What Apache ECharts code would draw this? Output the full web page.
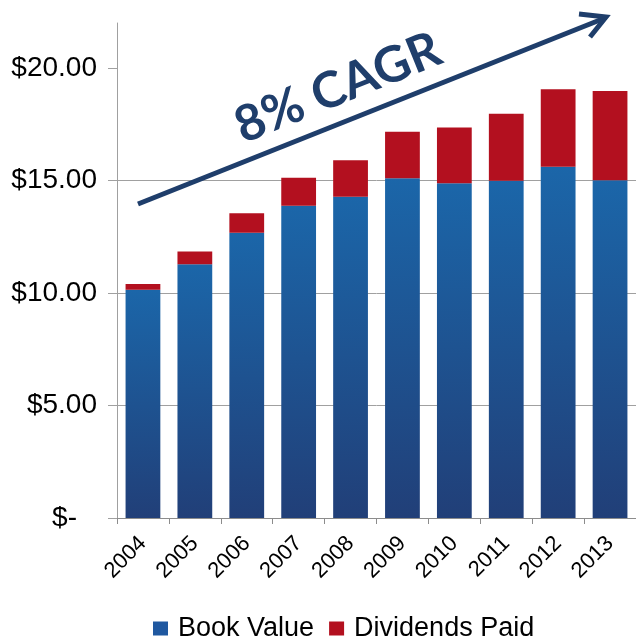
<!DOCTYPE html>
<html>
<head>
<meta charset="utf-8">
<script src="https://cdn.jsdelivr.net/npm/echarts@6/dist/echarts.min.js"></script>
<style>html,body{margin:0;padding:0;background:#fff}#c{width:636px;height:637px}</style>
</head>
<body>
<div id="c"></div>
<script>
const years = ['2004','2005','2006','2007','2008','2009','2010','2011','2012','2013'];
const bookValue = [10.14, 11.28, 12.68, 13.88, 14.28, 15.10, 14.88, 14.99, 15.61, 15.01];
const dividendsPaid = [0.26, 0.56, 0.86, 1.24, 1.62, 2.07, 2.48, 2.98, 3.45, 3.97];
const yTicks = [0, 5, 10, 15, 20];
const seriesNames = ['Book Value', 'Dividends Paid'];
const annotation = '8% CAGR';

const chart = echarts.init(document.getElementById('c'));
const blueGrad = new echarts.graphic.LinearGradient(0, 0, 0, 1, [
  {offset: 0, color: '#1b66a9'}, {offset: 1, color: '#213f78'}
]);
const navy = '#1f3e6b';
chart.setOption({
  animation: false,
  textStyle: {fontFamily: 'Liberation Sans'},
  grid: {left: 117, right: 0, top: 23, bottom: 119},
  legend: {
    left: 148, top: 610, itemWidth: 15, itemHeight: 14, itemGap: 15,
    icon: 'rect',
    textStyle: {fontSize: 27, color: '#000', fontFamily: 'Liberation Sans', padding: [0, 0, 0, 5]},
    data: [
      {name: seriesNames[0], itemStyle: {color: '#1f58a0'}},
      {name: seriesNames[1], itemStyle: {color: '#b3101f'}}
    ]
  },
  xAxis: {
    type: 'category', data: years,
    axisLine: {lineStyle: {color: '#8c8c8c', width: 1}},
    axisTick: {show: true, length: 6, lineStyle: {color: '#8c8c8c'}},
    axisLabel: {rotate: 45, fontSize: 22, color: '#000', margin: 22, interval: 0}
  },
  yAxis: {
    type: 'value', min: 0, max: 22, interval: 5,
    axisLine: {show: true, lineStyle: {color: '#a0a0a0'}},
    axisTick: {show: true, length: 9, lineStyle: {color: '#a0a0a0'}, customValues: yTicks},
    splitLine: {show: true, showMaxLine: false, lineStyle: {color: '#a0a0a0', width: 1}},
    axisLabel: {
      customValues: yTicks,
      fontSize: 28, color: '#000', margin: 20,
      formatter: v => v === 0 ? '{z|$-}' : '$' + v.toFixed(2),
      rich: {z: {fontSize: 28, color: '#000', padding: [0, 20, 0, 0]}}
    }
  },
  series: [
    {name: seriesNames[0], type: 'bar', stack: 'a', data: bookValue, barCategoryGap: '33%',
     itemStyle: {color: blueGrad}},
    {name: seriesNames[1], type: 'bar', stack: 'a', data: dividendsPaid,
     itemStyle: {color: '#b3101f'}}
  ],
  graphic: [
    {type: 'line', shape: {x1: 138, y1: 204, x2: 605, y2: 18}, style: {stroke: navy, lineWidth: 5, lineCap: 'butt'}, z: 100},
    {type: 'polyline', shape: {points: [[579, 14], [606, 17], [590, 37]]}, style: {stroke: navy, lineWidth: 5, fill: null, lineJoin: 'miter'}, z: 100},
    {type: 'text', x: 338, y: 88, rotation: 22 * Math.PI / 180, z: 100,
     style: {text: annotation, fill: navy, font: 'bold 50px Lato', align: 'center', verticalAlign: 'middle'}}
  ]
});
</script>
</body>
</html>
